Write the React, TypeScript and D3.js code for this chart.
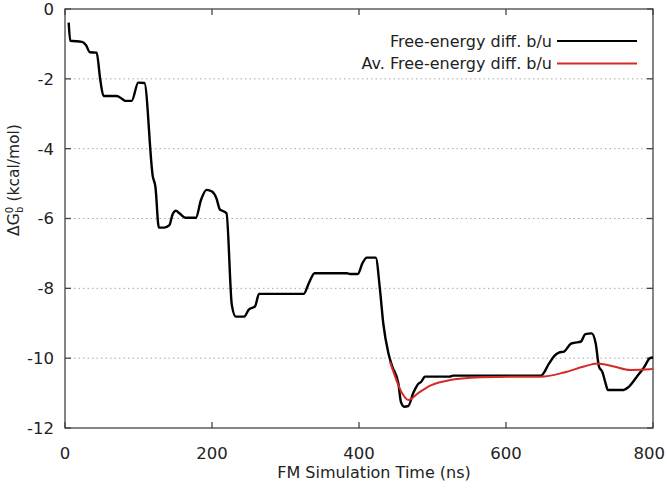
import React from "react";
import * as d3 from "d3";

const timeNs = [5, 7.2, 23, 28.4, 34, 43, 48, 52.4, 70.4, 79.4, 81.6, 90.7, 99.7, 108, 119.5, 123, 127.7, 135, 142, 146.6, 151, 155.7, 163.8, 178, 185, 192.6, 200, 206, 210.7, 214, 219.7, 227, 232.4, 243.6, 250.4, 258.5, 264, 324.9, 331.6, 339.7, 383.5, 388, 398.4, 404.7, 410.6, 422.7, 428.6, 433, 440, 445.3, 453.5, 457, 461.6, 467, 473.8, 480.5, 485, 489.6, 523.4, 528, 647.5, 658.7, 665.5, 672, 679, 688, 692.6, 701.6, 708, 716.5, 722, 726.5, 731, 735.5, 738.6, 760, 767, 778, 787, 796, 800];
const freeEnergy = [-0.39, -0.91, -0.94, -1.03, -1.24, -1.25, -2.03, -2.49, -2.49, -2.6, -2.63, -2.63, -2.11, -2.12, -4.8, -5.09, -6.26, -6.26, -6.19, -5.87, -5.78, -5.85, -5.98, -5.98, -5.47, -5.18, -5.23, -5.42, -5.74, -5.78, -5.85, -8.48, -8.81, -8.81, -8.6, -8.52, -8.16, -8.16, -7.86, -7.57, -7.57, -7.59, -7.59, -7.28, -7.12, -7.12, -8.05, -9.0, -9.86, -10.24, -10.72, -11.25, -11.39, -11.37, -11.0, -10.74, -10.67, -10.53, -10.53, -10.5, -10.5, -10.15, -9.94, -9.84, -9.81, -9.59, -9.56, -9.53, -9.31, -9.29, -9.57, -10.24, -10.39, -10.72, -10.91, -10.91, -10.82, -10.53, -10.29, -10.0, -9.98];

const avgTimeNs = [442, 447, 453.5, 460, 467, 480.5, 498.5, 521, 566, 611, 647.5, 679, 706, 724, 746.7, 769, 796, 800];
const avgFreeEnergy = [-10.1, -10.4, -10.77, -11.05, -11.2, -11.0, -10.77, -10.64, -10.55, -10.53, -10.53, -10.41, -10.24, -10.15, -10.24, -10.34, -10.32, -10.3];

const xTicks = [0, 200, 400, 600, 800];
const yTicks = [0, -2, -4, -6, -8, -10, -12];
const gridTicks = [-2, -4, -6, -8, -10];
const legendLabels = ["Free-energy diff. b/u", "Av. Free-energy diff. b/u"];
const seriesColors = ["#000000", "#d42a2a"];

const W = 667;
const H = 496;
const M = { left: 65, right: 14, top: 9, bottom: 68 };

export default function App() {
  const x = d3.scaleLinear().domain([0, 800]).range([M.left, W - M.right]);
  const y = d3.scaleLinear().domain([-12, 0]).range([H - M.bottom, M.top]);
  const mk = (xs: number[], ys: number[]) =>
    d3
      .line<number>()
      .x((d, i) => x(xs[i]))
      .y((d) => y(d))
      .curve(d3.curveMonotoneX)(ys) || "";
  const font = "'DejaVu Sans', Verdana, sans-serif";
  const x0 = x(0), x1 = x(800), y0 = y(-12), y1 = y(0);
  const tl = 6;
  return (
    <svg
      width={W}
      height={H}
      style={{ position: "absolute", left: 0, top: 0, background: "#fff" }}
      fontFamily={font}
    >
      <rect x={0} y={0} width={W} height={H} fill="#fff" />
      {gridTicks.map((t) => (
        <line key={"g" + t} x1={x0} x2={x1} y1={y(t)} y2={y(t)} stroke="#a8a8a8" strokeWidth={1} strokeDasharray="1.5,3" />
      ))}
      {yTicks.map((t) => (
        <g key={"y" + t}>
          <line x1={x0} x2={x0 + tl} y1={y(t)} y2={y(t)} stroke="#444" strokeWidth={1.3} />
          <line x1={x1} x2={x1 - tl} y1={y(t)} y2={y(t)} stroke="#444" strokeWidth={1.3} />
          <text x={x0 - 11} y={y(t)} dy="0.36em" textAnchor="end" fontSize={16.5} fill="#222">
            {t}
          </text>
        </g>
      ))}
      {xTicks.map((t, i) => {
        const last = i === xTicks.length - 1;
        return (
          <g key={"x" + t}>
            <line x1={x(t)} x2={x(t)} y1={y0} y2={y0 - tl} stroke="#444" strokeWidth={1.3} />
            <line x1={x(t)} x2={x(t)} y1={y1} y2={y1 + tl} stroke="#444" strokeWidth={1.3} />
            <text
              x={last ? W - 2 : x(t)}
              y={y0 + 31}
              textAnchor={last ? "end" : "middle"}
              fontSize={16.5}
              fill="#222"
            >
              {t}
            </text>
          </g>
        );
      })}
      <rect x={x0} y={y1} width={x1 - x0} height={y0 - y1} fill="none" stroke="#444" strokeWidth={1.3} />
      <path d={mk(timeNs, freeEnergy)} fill="none" stroke={seriesColors[0]} strokeWidth={2.4} strokeLinejoin="round" />
      <path d={mk(avgTimeNs, avgFreeEnergy)} fill="none" stroke={seriesColors[1]} strokeWidth={2} strokeLinejoin="round" />
      {legendLabels.map((l, i) => (
        <g key={l}>
          <text x={552} y={41 + i * 22.5} dy="0.36em" textAnchor="end" fontSize={16} fill="#222">
            {l}
          </text>
          <line x1={557} x2={637} y1={41 + i * 22.5} y2={41 + i * 22.5} stroke={seriesColors[i]} strokeWidth={2.2} />
        </g>
      ))}
      <text x={374} y={478} textAnchor="middle" fontSize={16} fill="#222">
        FM Simulation Time (ns)
      </text>
      <text transform="translate(19,180) rotate(-90)" textAnchor="middle" fontSize={15.5} fill="#222">
        ΔG<tspan fontSize={10} dy={-6}>0</tspan>
        <tspan fontSize={10} dy={10} dx={-6}>b</tspan>
        <tspan dy={-4}> (kcal/mol)</tspan>
      </text>
    </svg>
  );
}
